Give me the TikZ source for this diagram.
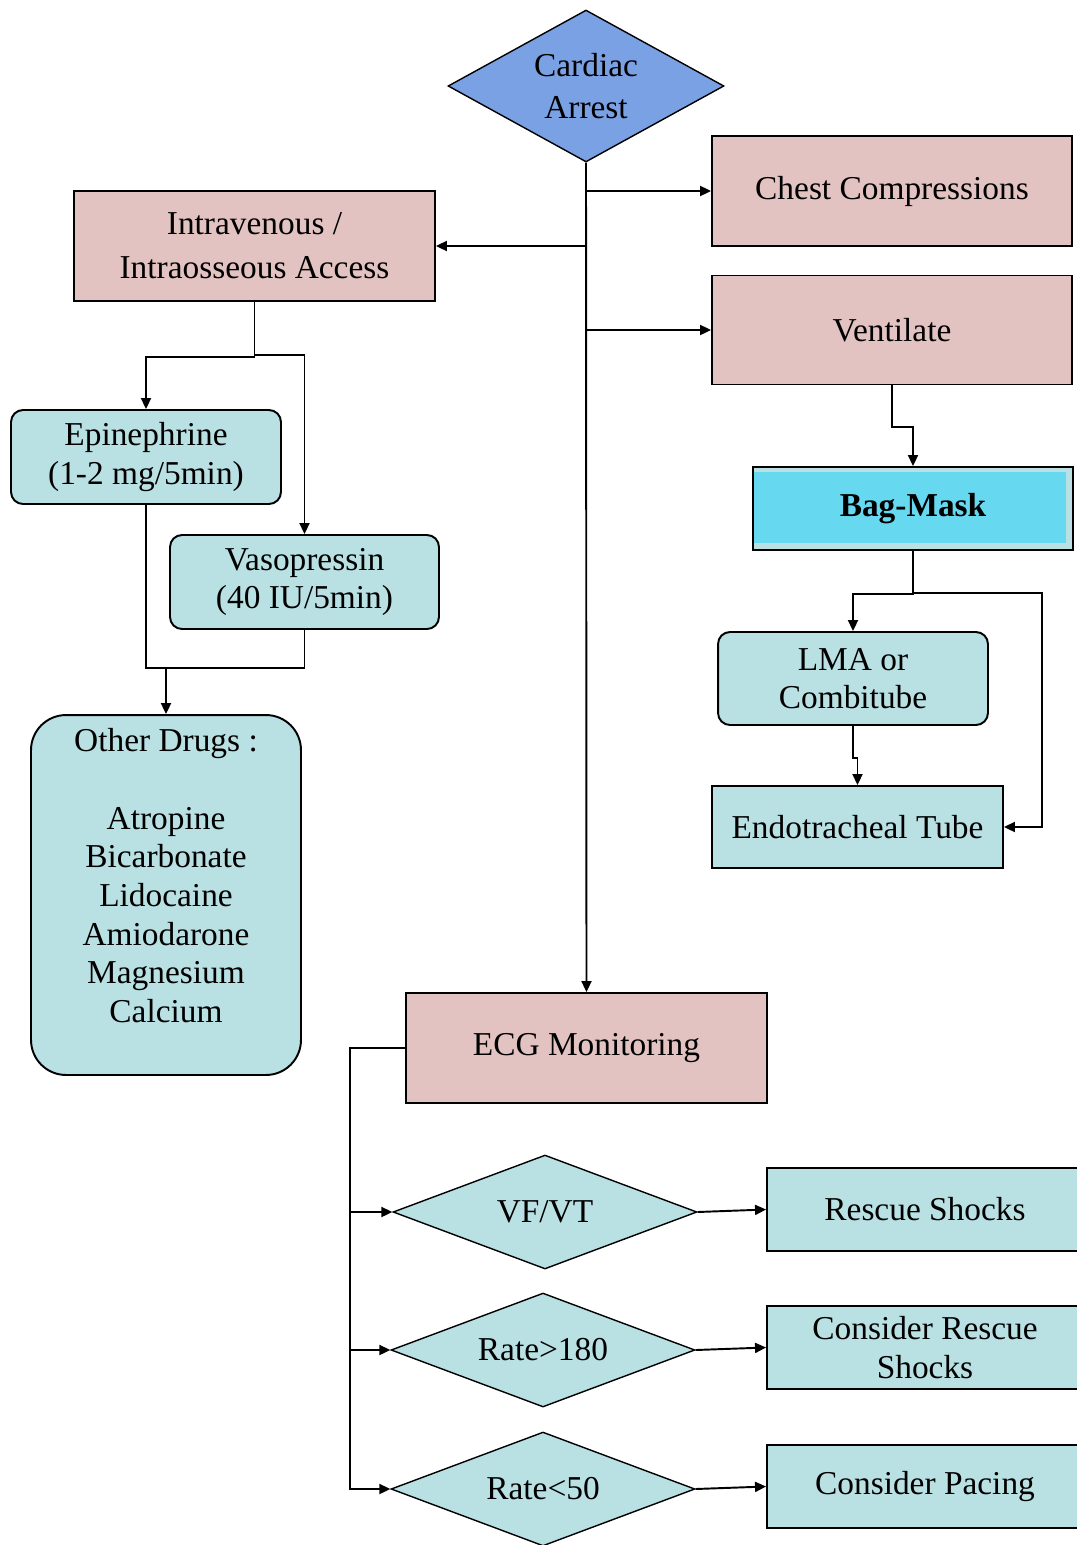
\documentclass[tikz,border=0pt]{standalone}
\usepackage{fontspec}
\setmainfont{Liberation Serif}
\usetikzlibrary{shapes.geometric,arrows.meta}
\definecolor{carpink}{RGB}{226,195,193}
\definecolor{carcyan}{RGB}{185,224,227}
\definecolor{carblue}{RGB}{122,161,227}
\definecolor{carbag}{RGB}{102,217,240}
\tikzset{edge/.style={line width=1.1pt, -{Triangle[length=2.2mm,width=2mm]}}}
\tikzset{wire/.style={line width=1.1pt}}
\tikzset{pbox/.style={draw, line width=1.1pt, fill=carpink, align=center, inner sep=0pt}}
\tikzset{cbox/.style={draw, line width=1.1pt, fill=carcyan, align=center, inner sep=0pt}}
\tikzset{rbox/.style={cbox, rounded corners=0.24cm}}
\tikzset{dnode/.style={draw, diamond, aspect=2.6, line width=0.8pt, fill=carcyan, align=center, inner sep=0pt}}
\tikzset{bagbox/.style={draw, line width=1.1pt, fill=carcyan, align=center, inner sep=0pt,
    path picture={\fill[carbag] ([xshift=0.02cm,yshift=-0.1cm]path picture bounding box.north west)
        rectangle ([xshift=-0.14cm,yshift=0.14cm]path picture bounding box.south east);}}}

\begin{document}
\begin{tikzpicture}[x=0.02cm, y=-0.02cm, every node/.style={font=\fontsize{19}{22}\selectfont}]
        \useasboundingbox (0,0) rectangle (1076,1545);

        \node[dnode, aspect=1.8, fill=carblue, minimum width=5.52cm, minimum height=3.04cm, font=\fontsize{19}{24}\selectfont] (Nca) at (586,86) {Cardiac\\Arrest};
        \node[pbox, minimum width=7.2cm, minimum height=2.2cm] (Ncc) at (892,191) {Chest Compressions};
        \node[pbox, minimum width=7.2cm, minimum height=2.18cm] (Nve) at (892,330) {Ventilate};
        \node[pbox, minimum width=7.22cm, minimum height=2.2cm, font=\fontsize{19}{25}\selectfont] (Niv) at (254.5,246) {Intravenous /\\Intraosseous Access};

        \node[bagbox, minimum width=6.4cm, minimum height=1.66cm] (Nbm) at (913,508.5) {\textbf{Bag-Mask}};
        \node[rbox, minimum width=5.4cm, minimum height=1.86cm] (Nlma) at (853,678.5) {LMA or\\Combitube};
        \node[cbox, minimum width=5.82cm, minimum height=1.64cm] (Net) at (857.5,827) {Endotracheal Tube};

        \node[rbox, minimum width=5.4cm, minimum height=1.88cm] (Nep) at (146,457) {Epinephrine\\(1-2 mg/5min)};
        \node[rbox, minimum width=5.38cm, minimum height=1.88cm] (Nva) at (304.5,582) {Vasopressin\\(40 IU/5min)};
        \node[rbox, rounded corners=0.7cm, minimum width=5.4cm, minimum height=7.2cm] (Nod) at (166,895)
            {Other Drugs :\\[22pt]Atropine\\Bicarbonate\\Lidocaine\\Amiodarone\\Magnesium\\Calcium\\\mbox{}};

        \node[pbox, minimum width=7.22cm, minimum height=2.2cm] (Necg) at (586.5,1048) {ECG Monitoring};

        \node[dnode, minimum width=6.08cm, minimum height=2.28cm] (Dvf) at (545,1212) {VF/VT};
        \node[dnode, minimum width=6.08cm, minimum height=2.28cm] (Dhi) at (543,1350) {Rate>180};
        \node[dnode, minimum width=6.08cm, minimum height=2.28cm] (Dlo) at (543,1489) {Rate<50};

        \node[cbox, minimum width=6.32cm, minimum height=1.66cm] (Brs) at (925,1209.5) {Rescue Shocks};
        \node[cbox, minimum width=6.32cm, minimum height=1.66cm] (Bcr) at (925,1347.5) {Consider Rescue\\Shocks};
        \node[cbox, minimum width=6.32cm, minimum height=1.66cm] (Bcp) at (925,1486.5) {Consider Pacing};

        \coordinate (Kr) at (1042,593);
        \coordinate (Jdr) at (166,668);
        \coordinate (Kecg) at (350,1048);

        \draw [edge] (Nca.south) -- (Necg.north);
        \draw [edge] (Nca.south |- Ncc.west) -- (Ncc.west);
        \draw [edge] (Nca.south |- Niv.east) -- (Niv.east);
        \draw [edge] (Nca.south |- Nve.west) -- (Nve.west);

        \draw [edge] (Nve.south) -- ++(0,42) -| (Nbm.north);
        \draw [edge] (Nbm.south) -- ++(0,43) -| (Nlma.north);
        \draw [edge] (Nbm.south) |- (Kr) |- (Net.east);
        \draw [edge] (Nlma.south) -- ++(0,32) -| (Net.north);

        \draw [edge] (Niv.south) -- ++(0,55) -| (Nep.north);
        \draw [edge] (Niv.south) -- ++(0,53) -| (Nva.north);
        \draw [wire] (Nep.south) |- (Nva.south |- Jdr) -- (Nva.south);
        \draw [edge] (Jdr) -- (Nod.north);

        \draw [edge] (Necg.west) -- (Kecg) |- (Dlo.west);
        \draw [edge] (Kecg) |- (Dvf.west);
        \draw [edge] (Kecg) |- (Dhi.west);

        \draw [edge] (Dvf.east) -- (Brs.west);
        \draw [edge] (Dhi.east) -- (Bcr.west);
        \draw [edge] (Dlo.east) -- (Bcp.west);

    \end{tikzpicture}
\end{document}
